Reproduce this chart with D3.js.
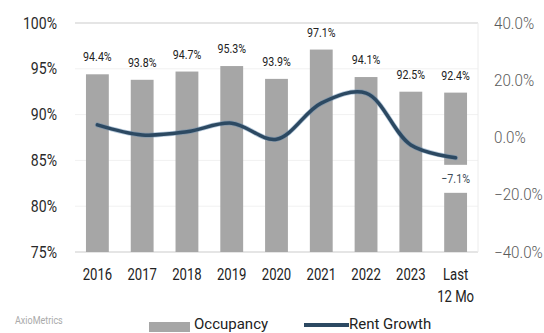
<!DOCTYPE html>
<html>
<head>
<meta charset="utf-8">
<script src="https://cdn.jsdelivr.net/npm/d3@7"></script>
<style>
  html, body { margin: 0; padding: 0; background: #fff; }
  svg { display: block; }
  text { font-family: "Roboto", "DejaVu Sans Condensed", sans-serif; }
</style>
</head>
<body>
<svg id="chart" width="544" height="333"></svg>
<script>
// Occupancy (bars, left axis) and rent growth (line, right axis) by year
const categories = ["2016", "2017", "2018", "2019", "2020", "2021", "2022", "2023", "Last\n12 Mo"];
const occupancy = [94.4, 93.8, 94.7, 95.3, 93.9, 97.1, 94.1, 92.5, 92.4];
const rentGrowth = [4.4, 0.9, 2.0, 5.0, -0.6, 12.0, 15.5, -2.6, -7.1];
const leftTicks = [75, 80, 85, 90, 95, 100];
const rightTicks = [-40, -20, 0, 20, 40];

const svg = d3.select("#chart");
const plot = { left: 75, right: 478, top: 23, bottom: 252 };

const x = d3.scaleBand().domain(categories).range([plot.left, plot.right]).paddingInner(0.49).paddingOuter(0.245);
const yL = d3.scaleLinear().domain([75, 100]).range([plot.bottom, plot.top]);
const yR = d3.scaleLinear().domain([-40, 40]).range([plot.bottom, plot.top]);
const cx = d => x(d) + x.bandwidth() / 2;

// narrow text: horizontally squeezed to get a condensed look
function narrowText(parent, px, py, str, size, fill, anchor, sx) {
  return parent.append("text")
    .attr("transform", `translate(${px},${py}) scale(${sx},1)`)
    .attr("text-anchor", anchor).attr("font-size", size).attr("fill", fill)
    .text(str);
}

// faint horizontal gridlines
svg.append("g").selectAll("line").data(leftTicks).join("line")
  .attr("x1", plot.left).attr("x2", plot.right)
  .attr("y1", d => yL(d)).attr("y2", d => yL(d))
  .attr("stroke", d => (d === 100 || d === 75) ? "#dcdcdc" : "#f1f1f1")
  .attr("stroke-width", d => (d === 100 || d === 75) ? 1.5 : 1);
svg.append("line")
  .attr("x1", plot.right).attr("x2", plot.right)
  .attr("y1", plot.top).attr("y2", plot.bottom)
  .attr("stroke", "#ececec");

// left axis
const sxL = 0.88;
const axL = svg.append("g").attr("transform", `translate(${plot.left},0)`)
  .call(d3.axisLeft(yL).tickValues(leftTicks).tickFormat(d => d + "%").tickSize(0));
axL.select(".domain").remove();
axL.selectAll("text")
  .attr("font-size", 16).attr("fill", "#2a2a2a")
  .attr("font-family", '"Roboto", sans-serif')
  .attr("x", -18 / sxL).attr("transform", `scale(${sxL},1)`);

// right axis
const sxR = 0.95;
const axR = svg.append("g").attr("transform", `translate(${plot.right},0)`)
  .call(d3.axisRight(yR).tickValues(rightTicks).tickFormat(d => d3.format(".1f")(d) + "%").tickSize(0));
axR.select(".domain").remove();
axR.selectAll("text")
  .attr("font-size", 16).attr("fill", "#5a5a5a").attr("font-weight", 300)
  .attr("font-family", '"Roboto", sans-serif')
  .attr("x", 16 / sxR).attr("transform", `scale(${sxR},1)`);

// occupancy bars
svg.append("g").selectAll("rect").data(categories).join("rect")
  .attr("x", d => x(d)).attr("width", x.bandwidth())
  .attr("y", (d, i) => yL(occupancy[i]))
  .attr("height", (d, i) => plot.bottom - yL(occupancy[i]))
  .attr("fill", "#a6a6a6");

// occupancy value labels
const valG = svg.append("g");
categories.forEach((c, i) => {
  narrowText(valG, cx(c), yL(occupancy[i]) - 13, d3.format(".1f")(occupancy[i]) + "%", 13, "#222", "middle", 0.82);
});

// rent growth line
const line = d3.line()
  .x((d, i) => cx(categories[i]))
  .y(d => yR(d))
  .curve(d3.curveCatmullRom.alpha(0.5));
svg.append("path").datum(rentGrowth)
  .attr("d", line).attr("fill", "none")
  .attr("stroke", "#5b86ad").attr("stroke-width", 5).attr("stroke-opacity", 0.45)
  .attr("stroke-linecap", "round");
svg.append("path").datum(rentGrowth)
  .attr("d", line).attr("fill", "none")
  .attr("stroke", "#2c4962").attr("stroke-width", 3.5)
  .attr("stroke-linecap", "round");

// label for the latest rent growth value
const lastIdx = rentGrowth.length - 1;
const lx = cx(categories[lastIdx]);
const ly = yR(rentGrowth[lastIdx]) + 25;
svg.append("rect")
  .attr("x", lx - 19).attr("y", ly - 18).attr("width", 38).attr("height", 28)
  .attr("fill", "#fff");
narrowText(svg, lx, ly, d3.format(".1f")(rentGrowth[lastIdx]) + "%", 13, "#3e4b58", "middle", 0.82);

// category labels (multi-line)
const catG = svg.append("g");
categories.forEach(c => {
  c.split("\n").forEach((part, k) => {
    narrowText(catG, cx(c), 280 + k * 22, part, 16, "#222", "middle", 0.82);
  });
});

// legend
const legend = svg.append("g");
legend.append("rect").attr("x", 149).attr("y", 322).attr("width", 41).attr("height", 10).attr("fill", "#a6a6a6");
narrowText(legend, 194, 329, "Occupancy", 15, "#222", "start", 1.0);
legend.append("line").attr("x1", 304).attr("x2", 349).attr("y1", 325).attr("y2", 325)
  .attr("stroke", "#2c4962").attr("stroke-width", 4);
narrowText(legend, 349, 329, "Rent Growth", 15, "#222", "start", 1.0);

// source note
narrowText(svg, 15, 324, "AxioMetrics", 10, "#aaa", "start", 0.9);
</script>
</body>
</html>
